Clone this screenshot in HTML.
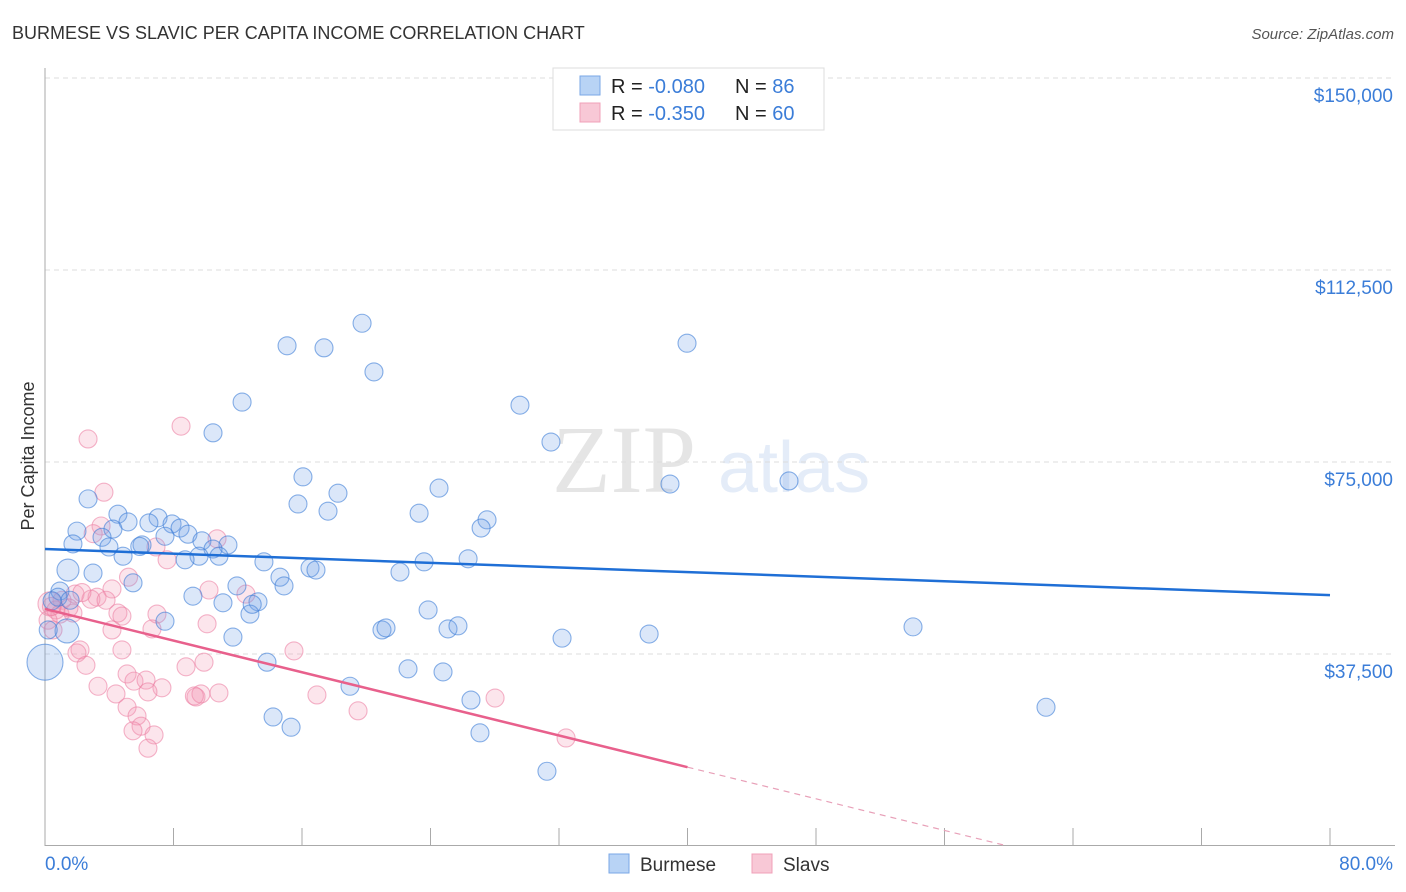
<!DOCTYPE html>
<html><head><meta charset="utf-8"><style>
body{margin:0;background:#fff;font-family:"Liberation Sans",sans-serif}
svg{display:block}
</style></head><body>
<svg id="c" width="1406" height="892">
<text x="12" y="39" font-size="18" fill="#333">BURMESE VS SLAVIC PER CAPITA INCOME CORRELATION CHART</text>
<text x="1394" y="39" font-size="15" fill="#555" font-style="italic" text-anchor="end">Source: ZipAtlas.com</text>
<g opacity="0.16">
<text x="552" y="492" font-family="Liberation Serif" font-size="96" fill="#666">ZIP</text>
<text x="718" y="492" font-size="72" fill="#5b8fd9">atlas</text>
</g>
<g id="grid"></g>
<g id="axes"></g>
<g id="pts"></g>
<g id="lines"></g>
<text transform="translate(34,456) rotate(-90)" font-size="18" fill="#333" text-anchor="middle">Per Capita Income</text>
<text x="45" y="870" font-size="19" fill="#3b7dd8">0.0%</text>
<text x="1393" y="870" font-size="19" fill="#3b7dd8" text-anchor="end">80.0%</text>
<g>
<rect x="553" y="68" width="271" height="62" fill="#fff" stroke="#ddd"/>
<g><rect x="580" y="76" width="20" height="19" fill="#b8d3f5" stroke="#7aa7e6"/>
<text x="611" y="93" font-size="20" fill="#222">R = <tspan fill="#3b7dd8">-0.080</tspan><tspan x="735">N = </tspan><tspan fill="#3b7dd8">86</tspan></text></g>
<g><rect x="580" y="103" width="20" height="19" fill="#f8c8d6" stroke="#f0a0b8"/>
<text x="611" y="120" font-size="20" fill="#222">R = <tspan fill="#3b7dd8">-0.350</tspan><tspan x="735">N = </tspan><tspan fill="#3b7dd8">60</tspan></text></g>
</g>
<g>
<g><rect x="609" y="854" width="20" height="19" fill="#b8d3f5" stroke="#7aa7e6"/><text x="640" y="871" font-size="19" fill="#333">Burmese</text></g>
<g><rect x="752" y="854" width="20" height="19" fill="#f8c8d6" stroke="#f0a0b8"/><text x="783" y="871" font-size="19" fill="#333">Slavs</text></g>
</g>
</svg>
<script>
const yTicks=[37500,75000,112500,150000];
const yTickLabels=["$37,500","$75,000","$112,500","$150,000"];
const xTicks=[0,8,16,24,32,40,48,56,64,72,80];
const burmeseX=[19.74,15.07,17.37,20.48,39.97,12.27,29.57,10.46,31.5,16.06,38.91,46.32,24.53,18.24,2.68,15.75,17.62,23.29,27.52,27.15,4.54,7.04,5.17,6.47,1.99,4.23,7.91,8.41,3.55,8.9,7.47,1.74,6.04,3.98,9.77,11.39,10.46,4.86,9.59,10.83,8.72,13.63,26.34,23.6,22.1,16.5,16.87,2.99,1.43,5.48,14.63,11.95,14.88,0.93,9.21,11.08,13.26,23.85,12.76,7.47,20.98,21.23,25.09,25.71,54.04,11.7,32.19,37.61,1.37,0,13.82,22.6,24.78,18.99,26.52,62.32,14.2,15.32,27.08,31.25,0.81,0.2,1.56,0.44,12.9,5.9];
const burmeseY=[102.1,97.7,97.3,92.6,98.2,86.7,86.1,80.7,78.9,72.1,70.7,71.3,69.9,68.9,67.8,66.8,65.4,65,63.7,62.1,64.8,64.1,63.3,63.1,61.5,61.9,62.9,62.1,60.3,60.9,60.5,59,58.8,58.4,59.6,58.8,58,56.6,56.6,56.6,55.9,55.5,56.1,55.5,53.5,54.3,53.9,53.3,53.9,51.4,52.5,50.8,50.8,49.8,48.8,47.5,47.7,46.1,45.3,43.9,42.2,42.6,42.4,43,42.8,40.8,40.6,41.4,42,35.9,35.9,34.6,34,31.2,28.5,27.1,25.2,23.2,22.1,14.6,48.6,42.2,48,47.9,47.2,58.5];
const burmeseR=[9,9,9,9,9,9,9,9,9,9,9,9,9,9,9,9,9,9,9,9,9,9,9,9,9,9,9,9,9,9,9,9,9,9,9,9,9,9,9,9,9,9,9,9,9,9,9,9,11,9,9,9,9,9,9,9,9,9,9,9,9,9,9,9,9,9,9,9,12,18,9,9,9,9,9,9,9,9,9,9,9,9,9,9,9,9];
const slavsX=[8.47,2.68,3.67,3.49,10.71,6.91,7.6,4.17,1.87,3.24,2.86,3.8,1.06,0.31,0.68,0.93,1.74,0.19,4.54,4.79,6.97,10.21,12.51,4.17,6.66,10.09,0.5,2.18,1.99,4.79,15.5,2.55,9.9,8.78,3.3,5.11,5.54,6.29,4.42,7.28,6.41,10.83,9.4,9.71,16.93,28.02,5.11,19.49,5.73,5.98,5.48,6.79,6.41,32.44,1.49,0.4,2.3,9.3,3.0,5.2];
const slavsY=[82,79.5,69.1,62.5,60,58.4,55.9,50.2,49.2,48.6,48.2,48,48,47.3,46.1,45.3,45.5,44.1,45.5,44.9,45.3,50,49.2,42.2,42.4,43.4,42.2,38.3,37.7,38.3,38.1,35.3,35.9,35,31.2,33.6,32.2,32.4,29.7,30.9,30.1,29.9,29.1,29.7,29.5,28.9,27.1,26.4,25.4,23.4,22.5,21.7,19.1,21.1,46.5,46.8,49.5,29.3,61,52.5];
const slavsR=[9,9,9,9,9,9,9,9,9,9,9,9,9,12,9,9,9,9,9,9,9,9,9,9,9,9,9,9,9,9,9,9,9,9,9,9,9,9,9,9,9,9,9,9,9,9,9,9,9,9,9,9,9,9,9,9,9,9,9,9];
const burmeseTrend=[58.0,49.0];
const slavsTrend=[46.3,15.4];
const X0=45,X1=1330,Y0=846,Yk=192/37.5;
const sx=v=>X0+(v/80)*(X1-X0);
const sy=v=>Y0-v*Yk;
const NS="http://www.w3.org/2000/svg";
function mk(t,p,a){const e=document.createElementNS(NS,t);for(const k in a)e.setAttribute(k,a[k]);p.appendChild(e);return e;}
const grid=document.getElementById('grid'),axes=document.getElementById('axes'),pts=document.getElementById('pts'),lines=document.getElementById('lines');
yTicks.forEach((t,i)=>{
 const l=mk('line',grid,{x1:45,x2:1395,y1:sy(t/1000),y2:sy(t/1000),stroke:'#ddd','stroke-dasharray':'5,4'});
 
 
 const tx=mk('text',grid,{x:1393,y:sy(t/1000)+24,'font-size':19,fill:'#3b7dd8','text-anchor':'end'});
 tx.textContent=yTickLabels[i];
 
 
});
const ya=mk('line',axes,{x1:45,x2:45,y1:68,y2:846,stroke:'#aaa'});


const xa=mk('line',axes,{x1:45,x2:1395,y1:845.5,y2:845.5,stroke:'#aaa'});


xTicks.forEach(t=>{
 const l=mk('line',axes,{x1:sx(t),x2:sx(t),y1:828,y2:846,stroke:'#aaa'});
 
 
});
function draw(xs,ys,rs,fill,stroke,name){
 xs.forEach((x,i)=>{
  const c=mk('circle',pts,{cx:sx(x),cy:sy(ys[i]),r:rs[i]||9,fill:fill,stroke:stroke,'stroke-width':1.1});
  
  
 });
}
draw(slavsX,slavsY,slavsR,'rgba(244,150,180,0.25)','rgba(236,130,165,0.6)','slavs-point');
draw(burmeseX,burmeseY,burmeseR,'rgba(110,160,230,0.25)','rgba(60,125,215,0.6)','burmese-point');
const bl=mk('line',lines,{x1:sx(0),y1:sy(burmeseTrend[0]),x2:sx(80),y2:sy(burmeseTrend[1]),stroke:'#1f6fd6','stroke-width':2.5});


const slope=(slavsTrend[1]-slavsTrend[0])/40;
const sl=mk('line',lines,{x1:sx(0),y1:sy(slavsTrend[0]),x2:sx(40),y2:sy(slavsTrend[1]),stroke:'#e8608c','stroke-width':2.5});


const xz=-slavsTrend[0]/slope;
const sd=mk('line',lines,{x1:sx(40),y1:sy(slavsTrend[1]),x2:sx(xz),y2:sy(0),stroke:'#e8a0b8','stroke-width':1.2,'stroke-dasharray':'6,5'});


</script>
</body></html>
